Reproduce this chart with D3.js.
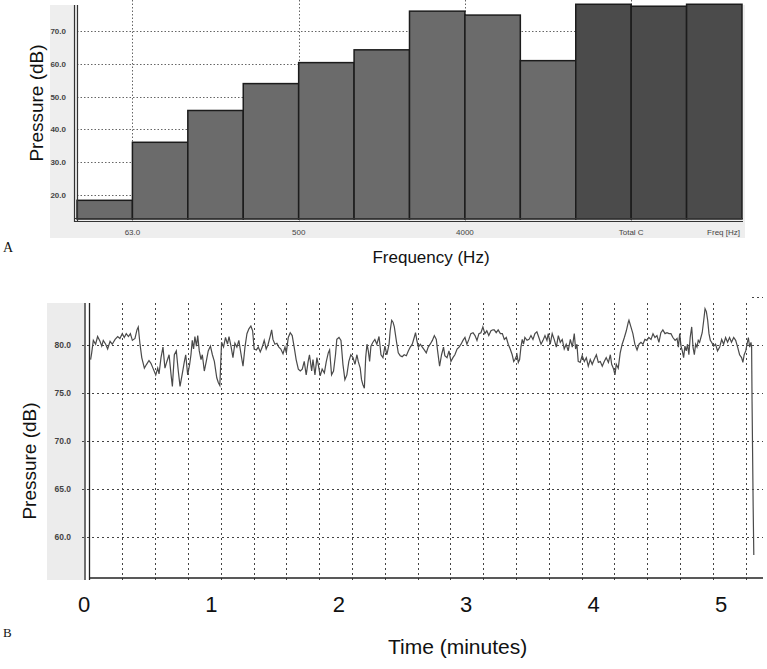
<!DOCTYPE html>
<html>
<head>
<meta charset="utf-8">
<script src="https://cdn.jsdelivr.net/npm/d3@7"></script>
<style>
  html, body { margin: 0; padding: 0; background: #fff; }
  svg { display: block; }
</style>
</head>
<body>
<svg id="chart" width="767" height="669"></svg>
<script>
// ---- panel A: octave band spectrum ----
const bands = ['31.5', '63.0', '125', '250', '500', '1000', '2000', '4000', '8000', 'Total A', 'Total C', 'Total Z'];
const bandLevels = [18.4, 36.1, 45.8, 54.0, 60.4, 64.3, 76.1, 74.9, 61.0, 78.2, 77.6, 78.2];
const bandLabels = ['63.0', '500', '4000', 'Total C'];
const totalBands = ['Total A', 'Total C', 'Total Z'];
const spectrumTicks = [20, 30, 40, 50, 60, 70];

// ---- panel B: sound level over time (instrument seconds, dB) ----
const trace = [
  [0.5,78.5],[1.0,79.2],[1.75,80.5],[2.8,80.1],[3.7,80.9],[4.8,80.4],[5.6,79.9],[6.3,80.5],[7.4,80.1],[8.3,79.6],
  [9.4,80.4],[10.4,80.1],[11.7,80.6],[12.9,80.9],[13.9,80.7],[15.0,81.2],[15.9,80.8],[16.8,81.2],[17.8,80.9],[18.7,81.2],
  [19.6,80.5],[20.8,80.7],[21.7,81.6],[22.3,81.9],[23.1,80.1],[23.9,78.7],[25.1,77.6],[26.1,78.0],[27.2,78.4],[28.1,78.1],
  [29.2,77.5],[30.3,76.9],[31.2,77.6],[31.8,77.0],[32.7,78.7],[33.6,79.8],[34.5,77.6],[35.4,78.3],[36.4,79.0],[37.3,76.9],
  [37.9,75.7],[38.8,79.0],[39.7,79.4],[40.6,77.3],[41.4,75.7],[42.5,77.1],[43.4,78.3],[44.0,79.0],[44.9,76.9],[45.8,78.0],
  [46.4,79.0],[47.0,80.5],[47.6,79.6],[48.2,80.9],[48.9,79.9],[49.5,81.0],[50.2,79.4],[51.0,78.5],[51.6,79.0],[52.5,77.3],
  [53.4,78.3],[54.3,79.4],[55.3,79.9],[56.2,79.0],[57.1,78.3],[58.2,76.6],[58.9,76.1],[59.6,75.8],
  [60.4,80.3],[61.3,79.8],[62.2,80.8],[63.1,80.1],[63.8,80.9],[64.7,79.9],[65.6,78.7],[66.5,80.2],[67.4,79.8],[68.3,80.5],
  [69.2,79.2],[70.2,77.8],[71.1,79.8],[72.0,81.2],[72.9,81.7],[73.8,82.0],[74.6,81.5],[75.3,79.6],[76.3,79.5],[77.2,79.8],
  [78.1,79.3],[79.0,79.8],[79.9,80.5],[80.8,79.6],[81.7,80.1],[82.7,81.0],[83.3,81.6],[83.9,80.6],[84.8,80.1],[85.7,80.2],
  [86.6,79.8],[87.5,79.6],[88.5,79.1],[89.4,79.8],[90.0,79.2],[90.9,80.8],[91.8,81.3],[92.7,81.0],[93.6,79.8],[94.5,78.5],
  [95.5,77.5],[96.4,77.3],[97.3,77.5],[98.2,78.3],[99.1,76.9],[100.0,78.3],[100.6,79.0],[101.6,77.3],[102.2,78.5],[103.1,76.9],
  [104.0,78.7],[104.6,78.0],[105.5,76.8],[106.4,77.5],[107.4,77.1],[108.3,78.3],[109.2,79.2],[109.8,79.5],[110.7,76.9],[111.6,77.3],
  [112.5,79.0],[113.1,80.6],[114.1,80.8],[115.0,80.5],[115.9,78.0],[116.8,76.4],[117.7,76.9],[118.6,78.3],[119.5,79.0],[120.5,78.7],
  [121.4,78.0],[122.3,79.0],[122.9,78.3],[123.8,77.6],[124.4,76.4],[125.0,75.9],[125.7,75.5],[126.3,78.7],[126.9,80.1],[127.5,79.4],
  [128.1,78.3],[128.7,79.9],[129.6,80.3],[130.5,80.6],[131.4,80.1],[132.4,80.9],[133.3,79.0],[134.2,78.7],[135.1,79.9],[136.0,79.0],
  [137.0,80.1],[137.5,81.5],[138.2,82.6],[138.8,82.4],[139.4,81.9],[140.3,80.5],[141.2,79.2],[142.1,78.9],[143.0,78.8],[143.9,79.0],
  [144.9,78.9],[145.8,79.4],[146.7,79.8],[147.6,80.1],[148.5,80.8],[149.1,81.3],[149.7,80.5],[150.4,79.8],[151.3,80.1],[152.2,79.8],
  [153.1,79.5],[154.0,79.2],[154.9,79.8],[155.8,80.1],[156.8,80.5],[157.7,81.0],[158.6,80.6],[159.2,79.4],[160.1,77.8],[161.0,79.0],
  [161.9,79.8],[162.5,78.9],[163.5,78.7],[164.4,79.4],[165.3,78.3],[166.2,78.7],[167.1,79.0],[168.1,79.6],[169.0,79.8],[169.9,80.1],
  [170.8,80.5],[171.7,80.8],[172.6,80.1],[173.5,80.6],[174.4,81.2],[175.4,81.3],[176.3,81.0],[177.2,80.5],[178.1,81.2],[179.0,81.3],
  [179.9,81.9],[180.8,81.2],[181.7,81.5],[182.6,81.0],[183.6,81.5],[184.5,81.6],[185.1,81.6],[186.0,81.3],[186.9,81.6],[187.9,81.2],
  [188.8,81.2],[189.7,80.6],[190.6,80.8],[191.5,80.1],[192.4,79.6],[193.3,79.0],[194.0,78.3],[194.6,78.5],[195.5,79.0],[196.1,78.2],
  [196.7,78.5],[197.3,79.8],[197.9,80.6],[198.5,80.1],[199.1,80.8],[200.1,80.5],[201.0,80.6],[201.9,81.0],[202.8,80.6],[203.7,81.2],
  [204.6,81.4],[205.5,80.8],[206.5,80.1],[207.4,80.5],[208.3,81.0],[209.2,80.5],[209.8,81.2],[210.7,80.1],[211.6,81.2],[212.5,80.6],
  [213.5,79.8],[214.4,81.0],[215.3,80.3],[216.2,80.6],[217.1,79.6],[218.0,80.1],[218.9,79.4],[219.9,80.6],[220.8,79.8],[221.7,81.2],
  [222.3,79.6],[222.9,80.1],[223.5,78.3],[224.4,78.2],[225.3,78.9],[226.3,78.3],[227.2,78.7],[228.1,77.8],[229.0,78.5],[229.9,78.0],
  [230.8,78.5],[231.8,79.0],[232.7,78.2],[233.6,78.3],[234.5,77.8],[235.4,78.3],[236.3,78.7],[237.3,78.2],[238.2,79.0],[238.8,78.0],
  [239.7,77.5],[240.3,76.9],[240.9,78.0],[241.8,77.6],[242.7,79.2],[243.6,80.1],[244.6,80.8],[245.5,81.5],[246.4,82.4],[246.7,82.6],
  [247.6,81.9],[248.5,81.2],[249.4,80.1],[250.4,79.5],[251.3,80.1],[252.2,80.3],[253.1,80.1],[254.0,80.6],[254.9,80.5],[255.8,80.8],
  [256.8,80.6],[257.7,81.2],[258.6,80.8],[259.5,81.0],[260.4,80.3],[261.3,81.3],[262.2,81.6],[263.2,81.2],[264.1,81.3],[265.0,81.2],
  [265.9,81.2],[266.8,80.8],[267.8,80.5],[268.7,80.7],[269.3,79.8],[269.9,81.2],[270.5,79.9],[271.1,79.4],[271.7,78.7],[272.3,79.9],
  [272.9,79.4],[273.5,80.1],[274.1,79.0],[274.7,80.8],[275.4,81.9],[276.0,79.8],[276.6,79.0],[277.2,80.1],[277.8,79.8],[278.4,80.5],
  [279.0,80.3],[279.6,80.8],[280.2,81.3],[280.9,82.6],[281.5,83.8],[282.1,83.5],[282.7,82.6],[283.3,81.2],[283.9,80.5],[284.5,80.3],
  [285.4,79.9],[286.3,80.1],[287.2,79.4],[288.2,79.8],[289.1,80.6],[290.0,80.1],[290.9,80.8],[291.8,80.3],[292.7,80.8],[293.6,80.3],
  [294.6,80.8],[295.5,80.5],[296.4,79.8],[297.3,79.0],[298.2,78.7],[298.8,78.2],[299.4,79.0],[300.1,79.4],[300.7,80.1],[301.3,80.8],
  [301.9,79.8],[302.5,80.3],[302.8,79.8],[303.0,74.1],[303.5,63.2],[303.8,58.1]
];
const levelTicks = [60, 65, 70, 75, 80];
const gridSeconds = d3.range(15, 301, 15);
const minuteLabels = [0, 1, 2, 3, 4, 5];

const svg = d3.select('#chart');
const sans = '"Liberation Sans", Arial, sans-serif';
const serif = '"Liberation Serif", "Times New Roman", serif';

// ================= Panel A =================
const a = svg.append('g');
const xA = d3.scaleBand().domain(bands).range([77, 742]).paddingInner(0).paddingOuter(0);
const yA = d3.scaleLinear().domain([12.7, 79.5]).range([219, 0]);

a.append('rect').attr('x', 50).attr('y', 5).attr('width', 695).attr('height', 233).attr('fill', '#eeeeee');
a.append('rect').attr('x', 77).attr('y', 0).attr('width', 666).attr('height', 219).attr('fill', '#fff');

// gridlines
a.append('g').selectAll('line').data(spectrumTicks).join('line')
  .attr('x1', 77).attr('x2', 742)
  .attr('y1', d => Math.round(yA(d)) + 0.5).attr('y2', d => Math.round(yA(d)) + 0.5)
  .attr('stroke', '#666').attr('stroke-width', 1).attr('stroke-dasharray', '1.5,2');
a.append('g').selectAll('line').data(bandLabels).join('line')
  .attr('x1', d => Math.round(xA(d)) + 0.5).attr('x2', d => Math.round(xA(d)) + 0.5)
  .attr('y1', 0).attr('y2', 224)
  .attr('stroke', '#666').attr('stroke-width', 1).attr('stroke-dasharray', '1.5,2');

// bars
a.append('g').selectAll('rect').data(bands).join('rect')
  .attr('x', d => xA(d))
  .attr('y', (d, i) => yA(bandLevels[i]))
  .attr('width', xA.bandwidth())
  .attr('height', (d, i) => yA.range()[0] - yA(bandLevels[i]))
  .attr('fill', d => totalBands.includes(d) ? '#4b4b4b' : '#6b6b6b')
  .attr('stroke', '#1c1c1c').attr('stroke-width', 1.5);

// axes (double lines like the instrument software)
a.append('line').attr('x1', 74.5).attr('x2', 74.5).attr('y1', 5).attr('y2', 222).attr('stroke', '#333').attr('stroke-width', 1.2);
a.append('line').attr('x1', 77.5).attr('x2', 77.5).attr('y1', 5).attr('y2', 222).attr('stroke', '#333').attr('stroke-width', 1.2);
a.append('line').attr('x1', 75).attr('x2', 743).attr('y1', 218.5).attr('y2', 218.5).attr('stroke', '#333').attr('stroke-width', 1.2);
a.append('line').attr('x1', 75).attr('x2', 743).attr('y1', 221.5).attr('y2', 221.5).attr('stroke', '#333').attr('stroke-width', 1.2);

a.append('g').selectAll('text').data(spectrumTicks).join('text')
  .attr('x', 66).attr('y', d => yA(d) + 3)
  .attr('text-anchor', 'end')
  .attr('font-family', sans).attr('font-size', 8).attr('font-weight', 'bold').attr('fill', '#444')
  .text(d => d.toFixed(1));

a.append('g').selectAll('text').data(bandLabels).join('text')
  .attr('x', d => xA(d)).attr('y', 235)
  .attr('text-anchor', 'middle')
  .attr('font-family', sans).attr('font-size', 8).attr('fill', '#444')
  .text(d => d);
a.append('text').attr('x', 740).attr('y', 235).attr('text-anchor', 'end')
  .attr('font-family', sans).attr('font-size', 8).attr('fill', '#444').text('Freq [Hz]');

a.append('text')
  .attr('transform', 'translate(43,103) rotate(-90)')
  .attr('text-anchor', 'middle')
  .attr('font-family', sans).attr('font-size', 19).attr('fill', '#111')
  .text('Pressure (dB)');
a.append('text').attr('x', 431).attr('y', 263).attr('text-anchor', 'middle')
  .attr('font-family', sans).attr('font-size', 17).attr('fill', '#111')
  .text('Frequency (Hz)');
a.append('text').attr('x', 3).attr('y', 252)
  .attr('font-family', serif).attr('font-size', 14).attr('fill', '#111').text('A');

// ================= Panel B =================
const b = svg.append('g');
const xB = d3.scaleLinear().domain([0, 300]).range([89.5, 745.5]);
const yB = d3.scaleLinear().domain([55.7, 84.4]).range([578, 303]);
const xMin = d3.scaleLinear().domain([0, 5]).range([84, 721]);

b.append('rect').attr('x', 47).attr('y', 303).attr('width', 37).attr('height', 277).attr('fill', '#ececec');

b.append('g').selectAll('line').data(levelTicks).join('line')
  .attr('x1', 82).attr('x2', 763)
  .attr('y1', d => Math.round(yB(d)) + 0.5).attr('y2', d => Math.round(yB(d)) + 0.5)
  .attr('stroke', '#444').attr('stroke-width', 1).attr('stroke-dasharray', '2,3');
b.append('line').attr('x1', 752).attr('x2', 763)
  .attr('y1', Math.round(yB(85)) + 0.5).attr('y2', Math.round(yB(85)) + 0.5)
  .attr('stroke', '#444').attr('stroke-dasharray', '2,3');
b.append('g').selectAll('line').data(gridSeconds).join('line')
  .attr('x1', d => Math.round(xB(d)) + 0.5).attr('x2', d => Math.round(xB(d)) + 0.5)
  .attr('y1', 303).attr('y2', 581)
  .attr('stroke', '#444').attr('stroke-width', 1).attr('stroke-dasharray', '2,3');

b.append('line').attr('x1', 85).attr('x2', 85).attr('y1', 303).attr('y2', 580).attr('stroke', '#222').attr('stroke-width', 1.3);
b.append('line').attr('x1', 89.5).attr('x2', 89.5).attr('y1', 303).attr('y2', 580).attr('stroke', '#222').attr('stroke-width', 1.3);
b.append('line').attr('x1', 89).attr('x2', 763).attr('y1', 578).attr('y2', 578).attr('stroke', '#222').attr('stroke-width', 1.5);

const line = d3.line().x(d => xB(d[0])).y(d => yB(d[1]));
b.append('path').datum(trace)
  .attr('d', line)
  .attr('fill', 'none').attr('stroke', '#4a4a4a').attr('stroke-width', 1.2);

b.append('g').selectAll('text').data(levelTicks).join('text')
  .attr('x', 71).attr('y', d => yB(d) + 3)
  .attr('text-anchor', 'end')
  .attr('font-family', sans).attr('font-size', 8.5).attr('font-weight', 'bold').attr('fill', '#444')
  .text(d => d.toFixed(1));

b.append('g').selectAll('text').data(minuteLabels).join('text')
  .attr('x', d => xMin(d)).attr('y', 612)
  .attr('text-anchor', 'middle')
  .attr('font-family', sans).attr('font-size', 22).attr('fill', '#111')
  .text(d => d);

b.append('text')
  .attr('transform', 'translate(36,461) rotate(-90)')
  .attr('text-anchor', 'middle')
  .attr('font-family', sans).attr('font-size', 19).attr('fill', '#111')
  .text('Pressure (dB)');
b.append('text').attr('x', 388).attr('y', 654)
  .attr('font-family', sans).attr('font-size', 21).attr('fill', '#111')
  .text('Time (minutes)');
b.append('text').attr('x', 3).attr('y', 637)
  .attr('font-family', serif).attr('font-size', 13).attr('fill', '#111').text('B');
</script>
</body>
</html>
